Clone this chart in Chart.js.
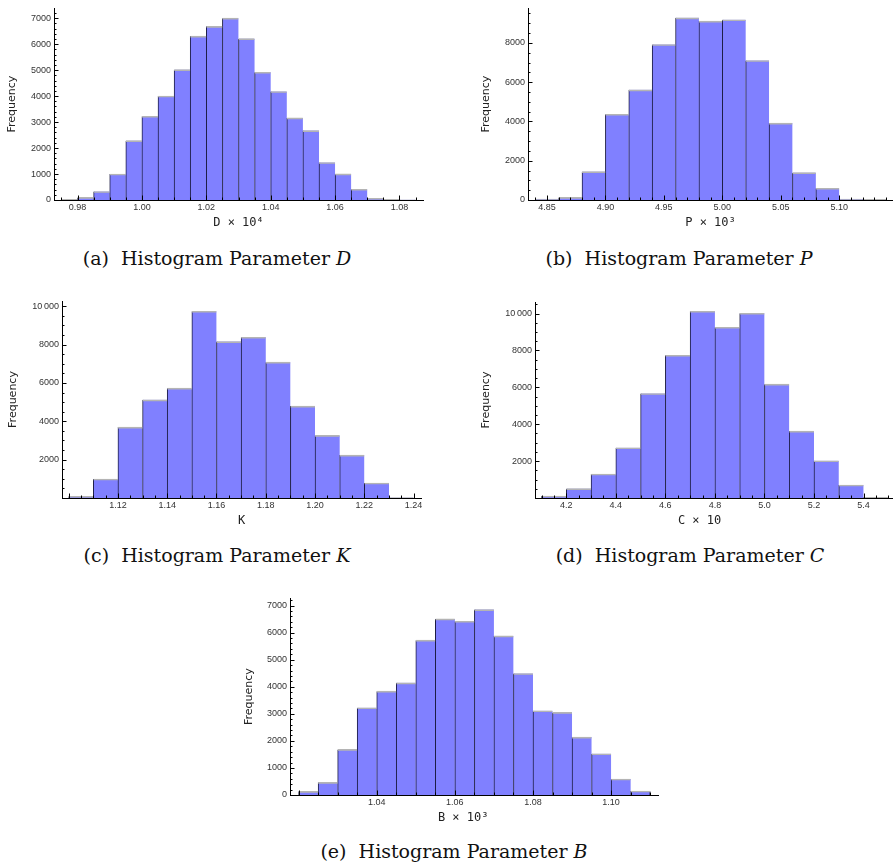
<!DOCTYPE html>
<html>
<head>
<meta charset="utf-8">
<title>Histograms</title>
<script src="https://cdn.jsdelivr.net/npm/chart.js@4.4.0/dist/chart.umd.min.js"></script>
<style>
  body { margin: 0; background: #fff; width: 893px; height: 866px; position: relative; overflow: hidden; }
  canvas { position: absolute; }
  .cap { position: absolute; font-family: 'DejaVu Serif', serif; font-size: 19px; color: #111;
         white-space: nowrap; transform: translate(-50%, -50%); }
</style>
</head>
<body>
<canvas id="chartD" width="430" height="230" style="left:0;top:0"></canvas>
<canvas id="chartP" width="419" height="230" style="left:474px;top:0"></canvas>
<canvas id="chartK" width="430" height="238" style="left:0;top:290px"></canvas>
<canvas id="chartC" width="419" height="238" style="left:474px;top:290px"></canvas>
<canvas id="chartB" width="430" height="235" style="left:237px;top:590px"></canvas>

<div class="cap" style="left:217px;top:258px">(a)&nbsp; Histogram Parameter <i>D</i></div>
<div class="cap" style="left:679px;top:258px">(b)&nbsp; Histogram Parameter <i>P</i></div>
<div class="cap" style="left:217px;top:555px">(c)&nbsp; Histogram Parameter <i>K</i></div>
<div class="cap" style="left:690px;top:555px">(d)&nbsp; Histogram Parameter <i>C</i></div>
<div class="cap" style="left:454px;top:851px">(e)&nbsp; Histogram Parameter <i>B</i></div>

<script>
// ---- data ----
const dBinStart = 0.975, dBinWidth = 0.005;
const dCounts = [30, 100, 326, 1000, 2283, 3224, 4002, 5018, 6310, 6686, 7000, 6210, 4918, 4177, 3161, 2672, 1443, 1004, 414, 63, 25, 10];
const dXTicks = [0.98, 1.00, 1.02, 1.04, 1.06, 1.08];
const dYTicks = [0, 1000, 2000, 3000, 4000, 5000, 6000, 7000];

const pBinStart = 4.84, pBinWidth = 0.02;
const pCounts = [50, 133, 1444, 4365, 5610, 7917, 9278, 9112, 9178, 7104, 3917, 1394, 598, 50, 33];
const pXTicks = [4.85, 4.90, 4.95, 5.00, 5.05, 5.10];
const pYTicks = [0, 2000, 4000, 6000, 8000];

const kBinStart = 1.10, kBinWidth = 0.01;
const kCounts = [87, 990, 3698, 5122, 5729, 9740, 8160, 8385, 7083, 4792, 3264, 2240, 781, 17];
const kXTicks = [1.12, 1.14, 1.16, 1.18, 1.20, 1.22, 1.24];
const kYTicks = [2000, 4000, 6000, 8000, 10000];

const cBinStart = 4.1, cBinWidth = 0.1;
const cCounts = [108, 505, 1300, 2726, 5668, 7744, 10126, 9260, 10018, 6173, 3628, 2022, 704, 36];
const cXTicks = [4.2, 4.4, 4.6, 4.8, 5.0, 5.2, 5.4];
const cYTicks = [2000, 4000, 6000, 8000, 10000];

const bBinStart = 1.02, bBinWidth = 0.005;
const bCounts = [135, 467, 1685, 3223, 3838, 4146, 5721, 6508, 6422, 6852, 5880, 4490, 3112, 3051, 2141, 1525, 590, 148];
const bXTicks = [1.04, 1.06, 1.08, 1.10];
const bYTicks = [0, 1000, 2000, 3000, 4000, 5000, 6000, 7000];

// inward tick marks like the original frame
const tickMarks = {
  id: 'tickMarks',
  afterDraw(chart, args, opts) {
    const ctx = chart.ctx;
    const area = chart.chartArea;
    ctx.save();
    ctx.strokeStyle = '#000';
    ctx.lineWidth = 1;
    ctx.beginPath();
    const mark = (scale, step, len) => {
      const first = Math.ceil(scale.min / step - 1e-6);
      const last = Math.floor(scale.max / step + 1e-6);
      for (let i = first; i <= last; i++) {
        const p = Math.round(scale.getPixelForValue(i * step)) + 0.5;
        if (scale.axis === 'x') {
          ctx.moveTo(p, area.bottom);
          ctx.lineTo(p, area.bottom - len);
        } else {
          ctx.moveTo(area.left, p);
          ctx.lineTo(area.left + len, p);
        }
      }
    };
    mark(chart.scales.x, opts.xMinor, 2.5);
    mark(chart.scales.x, opts.xMajor, 4.5);
    mark(chart.scales.y, opts.yMinor, 2.5);
    mark(chart.scales.y, opts.yMajor, 4.5);
    ctx.stroke();
    ctx.restore();
  }
};

const tickFont = { family: 'Liberation Sans, Arial, sans-serif', size: 9 };

function histChart(id, cfg) {
  const pts = cfg.counts.map((c, i) => ({ x: cfg.start + (i + 0.5) * cfg.width, y: c }));
  const n = pts.length;
  return new Chart(document.getElementById(id), {
    type: 'bar',
    data: {
      datasets: [
        {
          data: pts,
          backgroundColor: 'rgba(0,0,0,0)',
          borderColor: '#b4b4b4',
          borderWidth: { top: 1, left: 0, right: 0, bottom: 0 },
          order: 0
        },
        {
          data: pts,
          backgroundColor: '#8080ff',
          borderColor: '#1c1c44',
          borderWidth: (c) => ({ top: 0, bottom: 0, left: 1, right: c.dataIndex === n - 1 ? 1 : 0 }),
          order: 1
        }
      ]
    },
    options: {
      responsive: false,
      animation: false,
      grouped: false,
      barPercentage: 1,
      categoryPercentage: 1,
      layout: { padding: { top: cfg.padTop, right: cfg.padRight, left: 0, bottom: 0 } },
      plugins: {
        legend: { display: false },
        tooltip: { enabled: false },
        tickMarks: cfg.marks
      },
      scales: {
        x: {
          type: 'linear',
          min: cfg.xMin,
          max: cfg.xMax,
          offset: false,
          grid: { display: false, drawTicks: false },
          border: { display: true, color: '#000', width: 1 },
          afterBuildTicks: (s) => { s.ticks = cfg.xTicks.map(v => ({ value: v })); },
          afterFit: (s) => { s.height = 30; },
          ticks: {
            font: tickFont, color: '#333', padding: 2, maxRotation: 0, autoSkip: false,
            callback: (v) => Number(v).toFixed(cfg.xDigits)
          },
          title: {
            display: true, text: cfg.xTitle, color: '#222', padding: 0,
            font: { family: 'DejaVu Sans Mono, monospace', size: 12 }
          }
        },
        y: {
          min: 0,
          max: cfg.yMax,
          grid: { display: false, drawTicks: false },
          border: { display: true, color: '#000', width: 1 },
          afterBuildTicks: (s) => { s.ticks = cfg.yTicks.map(v => ({ value: v })); },
          afterFit: (s) => { s.width = cfg.yWidth; },
          ticks: {
            font: tickFont, color: '#333', padding: 3, autoSkip: false,
            callback: (v) => v >= 10000 ? '10\u2009000' : String(v)
          },
          title: {
            display: true, text: 'Frequency', color: '#222',
            padding: { top: cfg.yTitlePad, bottom: 0 },
            font: { family: 'DejaVu Sans, sans-serif', size: 11 }
          }
        }
      }
    },
    plugins: [tickMarks]
  });
}

histChart('chartD', {
  counts: dCounts, start: dBinStart, width: dBinWidth,
  xTicks: dXTicks, yTicks: dYTicks, xDigits: 2,
  xMin: 0.9727, xMax: 1.0873, yMax: 7376,
  xTitle: 'D \u00d7 10\u2074',
  padTop: 4, padRight: 7, yWidth: 54, yTitlePad: 6,
  marks: { xMajor: 0.02, xMinor: 0.005, yMajor: 1000, yMinor: 200 }
});

histChart('chartP', {
  counts: pCounts, start: pBinStart, width: pBinWidth,
  xTicks: pXTicks, yTicks: pYTicks, xDigits: 2,
  xMin: 4.8338, xMax: 5.146, yMax: 9757,
  xTitle: 'P \u00d7 10\u00b3',
  padTop: 4, padRight: 0, yWidth: 54, yTitlePad: 6,
  marks: { xMajor: 0.05, xMinor: 0.01, yMajor: 2000, yMinor: 500 }
});

histChart('chartK', {
  counts: kCounts, start: kBinStart, width: kBinWidth,
  xTicks: kXTicks, yTicks: kYTicks, xDigits: 2,
  xMin: 1.0973, xMax: 1.243, yMax: 10275,
  xTitle: 'K',
  padTop: 11, padRight: 9, yWidth: 62, yTitlePad: 7,
  marks: { xMajor: 0.02, xMinor: 0.005, yMajor: 2000, yMinor: 500 }
});

// trailing spaces nudge the centred axis title left, as in the original
histChart('chartC', {
  counts: cCounts, start: cBinStart, width: cBinWidth,
  xTicks: cXTicks, yTicks: cYTicks, xDigits: 1,
  xMin: 4.0737, xMax: 5.519, yMax: 10630,
  xTitle: 'C \u00d7 10    ',
  padTop: 12, padRight: 0, yWidth: 61, yTitlePad: 6,
  marks: { xMajor: 0.2, xMinor: 0.05, yMajor: 2000, yMinor: 500 }
});

histChart('chartB', {
  counts: bCounts, start: bBinStart, width: bBinWidth,
  xTicks: bXTicks, yTicks: bYTicks, xDigits: 2,
  xMin: 1.0178, xMax: 1.112, yMax: 7265,
  xTitle: 'B \u00d7 10\u00b3   ',
  padTop: 8, padRight: 9, yWidth: 53, yTitlePad: 6,
  marks: { xMajor: 0.02, xMinor: 0.005, yMajor: 1000, yMinor: 200 }
});
</script>
</body>
</html>
